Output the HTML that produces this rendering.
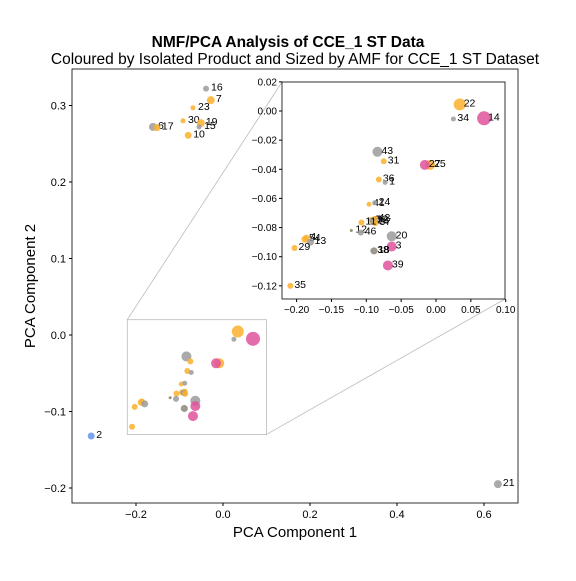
<!DOCTYPE html>
<html><head><meta charset="utf-8"><style>
body{margin:0;background:#fff}
svg{font-family:"Liberation Sans",sans-serif}
</style></head><body>
<svg id="c" width="576" height="576"></svg>
<script>
const ids=[16,7,23,30,19,15,10,6,17,2,21,43,31,36,1,41,24,8,32,42,26,37,11,12,46,20,3,18,38,39,54,4,13,29,35,22,34,14,25,27];
const xs=[-0.039,-0.028,-0.069,-0.092,-0.051,-0.055,-0.080,-0.161,-0.152,-0.303,0.632,-0.084,-0.075,-0.082,-0.073,-0.096,-0.088,-0.094,-0.091,-0.088,-0.090,-0.087,-0.107,-0.1215,-0.108,-0.0636,-0.0636,-0.089,-0.090,-0.069,-0.188,-0.186,-0.180,-0.203,-0.209,0.034,0.025,0.069,-0.0086,-0.016];
const ys=[0.322,0.307,0.297,0.280,0.277,0.272,0.261,0.272,0.271,-0.132,-0.195,-0.028,-0.0345,-0.047,-0.049,-0.064,-0.063,-0.075,-0.075,-0.074,-0.076,-0.077,-0.0765,-0.082,-0.0835,-0.086,-0.093,-0.096,-0.096,-0.106,-0.088,-0.087,-0.090,-0.094,-0.120,0.0045,-0.0055,-0.005,-0.037,-0.037];
const groups=[1,0,0,0,0,1,0,1,0,3,1,1,0,0,1,0,1,0,1,0,1,0,0,4,1,1,2,4,1,2,0,0,1,0,0,0,1,2,0,2];
const sizes=[3,4,2.5,2.5,4,2.5,3.5,4,3.5,3.5,4,5,3,3,2.5,2.5,2.5,3,3,3,3,3,3,1.5,3,5,5,3.5,3,5,3.5,3,3.5,3,3,6,2.5,7,5,5];
const colors=["#fbb02d","#9b9b9b","#e0529c","#6495ed","#8b7d5c"];
const mainXT=[-0.2,0,0.2,0.4,0.6],mainYT=[-0.2,-0.1,0,0.1,0.2,0.3];
const inXT=[-0.2,-0.15,-0.1,-0.05,0,0.05,0.1],inYT=[0.02,0,-0.02,-0.04,-0.06,-0.08,-0.1,-0.12];
const NS="http://www.w3.org/2000/svg",svg=document.getElementById('c');
function el(t,a,p){const e=document.createElementNS(NS,t);for(const k in a)e.setAttribute(k,a[k]);(p||svg).appendChild(e);return e;}
const mx=v=>223+v*435,my=v=>335-v*765;
const ix=v=>436+v*697,iy=v=>111-v*1457;
const fmt=(v,d)=>(v<0?"\u2212":"")+Math.abs(v).toFixed(d);
let t=el('text',{x:288,y:47,'text-anchor':'middle','font-size':15.5,'font-weight':'bold'});t.textContent="NMF/PCA Analysis of CCE_1 ST Data";

t=el('text',{x:295,y:64,'text-anchor':'middle','font-size':15.5});t.textContent="Coloured by Isolated Product and Sized by AMF for CCE_1 ST Dataset";

let r=el('rect',{x:72,y:69,width:446,height:434,fill:'none',stroke:'#000','stroke-width':0.8});

mainXT.forEach(v=>{const x=mx(v);el('line',{x1:x,x2:x,y1:503,y2:506,stroke:'#000'});const tt=el('text',{x:x,y:518,'text-anchor':'middle','font-size':11});tt.textContent=fmt(v,1);
});
mainYT.forEach(v=>{const y=my(v);el('line',{x1:69,x2:72,y1:y,y2:y,stroke:'#000'});const tt=el('text',{x:66,y:y+4,'text-anchor':'end','font-size':11});tt.textContent=fmt(v,1);
});
t=el('text',{x:295,y:537,'text-anchor':'middle','font-size':15});t.textContent="PCA Component 1";

t=el('text',{x:35,y:286,'text-anchor':'middle','font-size':15,transform:'rotate(-90 35 286)'});t.textContent="PCA Component 2";

const zx0=mx(-0.22),zx1=mx(0.10),zy0=my(0.02),zy1=my(-0.13);
r=el('rect',{x:zx0,y:zy0,width:zx1-zx0,height:zy1-zy0,fill:'none',stroke:'#bbb','stroke-width':0.8});

el('line',{x1:zx0,y1:zy0,x2:282,y2:82,stroke:'#bbb','stroke-width':0.8});
el('line',{x1:zx1,y1:zy1,x2:505,y2:299,stroke:'#bbb','stroke-width':0.8});
const inZoom=i=>xs[i]>=-0.22&&xs[i]<=0.10&&ys[i]>=-0.13&&ys[i]<=0.02;
ids.forEach((id,i)=>{const c=el('circle',{cx:mx(xs[i]),cy:my(ys[i]),r:sizes[i],fill:colors[groups[i]],'fill-opacity':0.85});

if(!inZoom(i)){const l=el('text',{x:mx(xs[i])+5,y:my(ys[i])+2,'font-size':10.5});l.textContent=id;
}});
r=el('rect',{x:282,y:82,width:223,height:217,fill:'#fff',stroke:'#000','stroke-width':0.8});

inXT.forEach(v=>{const x=ix(v);el('line',{x1:x,x2:x,y1:299,y2:302,stroke:'#000'});const tt=el('text',{x:x,y:313,'text-anchor':'middle','font-size':10});tt.textContent=fmt(v,2);
});
inYT.forEach(v=>{const y=iy(v);el('line',{x1:279,x2:282,y1:y,y2:y,stroke:'#000'});const tt=el('text',{x:277,y:y+3.5,'text-anchor':'end','font-size':10});tt.textContent=fmt(v,2);
});
ids.forEach((id,i)=>{if(!inZoom(i))return;const c=el('circle',{cx:ix(xs[i]),cy:iy(ys[i]),r:sizes[i],fill:colors[groups[i]],'fill-opacity':0.85});

const l=el('text',{x:ix(xs[i])+4,y:iy(ys[i])+2,'font-size':10.5});l.textContent=id;
});
</script>
</body></html>
